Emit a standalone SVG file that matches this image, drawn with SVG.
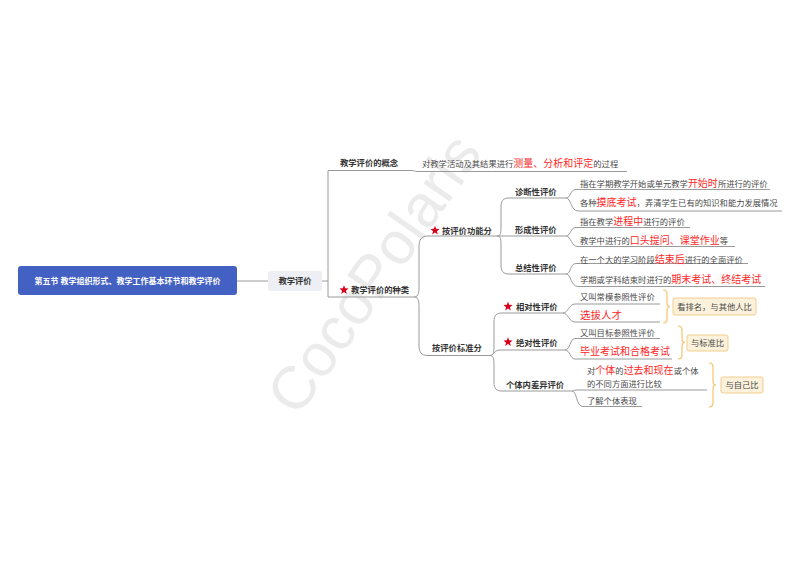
<svg xmlns="http://www.w3.org/2000/svg" width="800" height="566" viewBox="0 0 800 566">
<style>
text{font-family:"Noto Sans CJK SC","Noto Sans",sans-serif;font-size:8.3px;fill:#4a4a4a}
.b{font-weight:700;fill:#333}
.r{fill:#ff1f1f;font-size:10px}
.ul,.cn{fill:none;stroke:#9a9a9a;stroke-width:1}
.br{fill:none;stroke:#f6c36a;stroke-width:1.2}
.tag{fill:#fcf2dc;stroke:#f3cd8c;stroke-width:1}
.star{fill:#d9001b}
.c{text-anchor:middle}
</style>
<defs>
<path id="star" d="M0,-4.8 L1.2,-1.65 L4.57,-1.48 L1.93,0.63 L2.83,3.88 L0,2.03 L-2.83,3.88 L-1.93,0.63 L-4.57,-1.48 L-1.2,-1.65Z"/>
</defs>
<rect width="800" height="566" fill="#fff"/>
<text transform="translate(298,418) rotate(-55)" style="font-family:'Liberation Sans',Arial,sans-serif;font-size:60px;fill:#ebebeb">CocoPolaris</text>

<g id="connectors">
<path class="cn" d="M237,281 H268"/>
<path class="cn" d="M322,281 H328 M328,170.5 V297"/>
<path class="cn" d="M411,170.5 C415,170.5 414,171.5 418,171.5"/>
<path class="cn" d="M414,297 C419,297 419,292 419,285 V247 C419,240 421,236 428,236"/>
<path class="cn" d="M414,297 C419,297 419,302 419,309 V345 C419,352 421,355.5 428,355.5"/>
<path class="cn" d="M497,236 C501,236 501,232 501,226 V207 C501,201 503,198 509,198"/>
<path class="cn" d="M497,236 H505"/>
<path class="cn" d="M497,236 C501,236 501,240 501,246 V265 C501,271 503,274 509,274"/>
<path class="cn" d="M566,198 C571,198 570,189.5 576,189.5"/>
<path class="cn" d="M566,198 C571,198 571,211 578,211"/>
<path class="cn" d="M566,236 C571,236 570,227.5 576,227.5"/>
<path class="cn" d="M566,236 C571,236 571,246.5 578,246.5"/>
<path class="cn" d="M566,274 C571,274 570,263.5 576,263.5"/>
<path class="cn" d="M566,274 C571,274 571,286.5 578,286.5"/>
<path class="cn" d="M490,355.5 C494,355.5 494,351 494,345 V321 C494,316 496,313 502,313"/>
<path class="cn" d="M490,355.5 C494,355.5 494,350 500,350"/>
<path class="cn" d="M490,355.5 C494,355.5 494,360 494,366 V383 C494,388 496,391 502,391"/>
<path class="cn" d="M563,313 C568,313 569,304 575,304"/>
<path class="cn" d="M563,313 C568,313 569,322 575,322"/>
<path class="cn" d="M565,350 C570,350 570,338.5 575,338.5"/>
<path class="cn" d="M565,350 C570,350 570,359 575,359"/>
<path class="cn" d="M572,391 C574,391 574,390 576,390"/>
<path class="cn" d="M572,391 C577,391 576,406.5 583,406.5"/>
<path class="br" d="M663,290 Q667,290 667,294 V302.5 Q667,306.5 670,306.5 Q667,306.5 667,310.5 V319 Q667,323 663,323"/>
<path class="br" d="M678,326 Q682,326 682,330 V338.5 Q682,342.5 685,342.5 Q682,342.5 682,346.5 V355 Q682,359 678,359"/>
<path class="br" d="M709,363 Q713,363 713,367 V381 Q713,385 716,385 Q713,385 713,389 V403 Q713,407 709,407"/>
</g>

<g id="root">
<rect x="18" y="266" width="219" height="29" rx="3" fill="#4361c2"/>
<text class="c" x="127.5" y="284" style="fill:#fff;font-weight:700;font-size:8px">第五节 教学组织形式、教学工作基本环节和教学评价</text>
</g>
<g id="jxpj">
<rect x="268" y="271" width="54" height="20" rx="2" fill="#eeeff4"/>
<text class="b c" x="295" y="284">教学评价</text>
</g>
<g id="gainian">
<path class="ul" d="M328,170.5 H411"/>
<text class="b" x="340" y="166">教学评价的概念</text>
</g>
<g id="gainian-def">
<path class="ul" d="M418,171.5 H627"/>
<text x="422" y="167">对教学活动及其结果进行<tspan class="r">测量、分析和评定</tspan>的过程</text>
</g>
<g id="zhonglei">
<path class="ul" d="M328,297 H414"/>
<use href="#star" class="star" x="344" y="290"/>
<text class="b" x="351" y="293">教学评价的种类</text>
</g>
<g id="gongneng">
<path class="ul" d="M428,236 H497"/>
<use href="#star" class="star" x="435" y="230.5"/>
<text class="b" x="442" y="233.5">按评价功能分</text>
</g>
<g id="biaozhun">
<path class="ul" d="M428,355.5 H490"/>
<text class="b" x="432" y="351">按评价标准分</text>
</g>
<g id="zhenduan">
<path class="ul" d="M509,198 H566"/>
<text class="b" x="515" y="194.5">诊断性评价</text>
</g>
<g id="xingcheng">
<path class="ul" d="M505,236 H566"/>
<text class="b" x="515" y="233">形成性评价</text>
</g>
<g id="zongjie">
<path class="ul" d="M509,274 H566"/>
<text class="b" x="515" y="271">总结性评价</text>
</g>
<g id="d1">
<path class="ul" d="M576,189.5 H770"/>
<text x="580" y="186.5">指在学期教学开始或单元教学<tspan class="r">开始时</tspan>所进行的评价</text>
</g>
<g id="d2">
<path class="ul" d="M578,211 H782"/>
<text x="580" y="206">各种<tspan class="r">摸底考试</tspan>，弄清学生已有的知识和能力发展情况</text>
</g>
<g id="f1">
<path class="ul" d="M576,227.5 H690"/>
<text x="580" y="225">指在教学<tspan class="r">进程中</tspan>进行的评价</text>
</g>
<g id="f2">
<path class="ul" d="M578,246.5 H735"/>
<text x="580" y="243.5">教学中进行的<tspan class="r">口头提问、课堂作业</tspan>等</text>
</g>
<g id="z1">
<path class="ul" d="M576,263.5 H748"/>
<text x="580" y="262.5">在一个大的学习阶段<tspan class="r">结束后</tspan>进行的全面评价</text>
</g>
<g id="z2">
<path class="ul" d="M578,286.5 H765"/>
<text x="580" y="282.5">学期或学科结束时进行的<tspan class="r">期末考试、终结考试</tspan></text>
</g>
<g id="xiangdui">
<path class="ul" d="M502,313 H563"/>
<use href="#star" class="star" x="508" y="306.5"/>
<text class="b" x="516" y="310">相对性评价</text>
</g>
<g id="juedui">
<path class="ul" d="M500,350 H565"/>
<use href="#star" class="star" x="508" y="342"/>
<text class="b" x="516" y="345.5">绝对性评价</text>
</g>
<g id="geti">
<path class="ul" d="M502,391 H572"/>
<text class="b" x="506" y="387.5">个体内差异评价</text>
</g>
<g id="x1">
<path class="ul" d="M575,304 H660"/>
<text x="580" y="300">又叫常模参照性评价</text>
</g>
<g id="x2">
<path class="ul" d="M575,322 H660"/>
<text class="r" x="580" y="319" style="font-size:10.5px">选拔人才</text>
</g>
<g id="j1">
<path class="ul" d="M575,338.5 H660"/>
<text x="580" y="336">又叫目标参照性评价</text>
</g>
<g id="j2">
<path class="ul" d="M575,359 H672"/>
<text class="r" x="580" y="355">毕业考试和合格考试</text>
</g>
<g id="g1">
<path class="ul" d="M576,390 H707"/>
<text x="587" y="374">对<tspan class="r">个体</tspan>的<tspan class="r">过去和现在</tspan>或个体</text>
<text x="587" y="386.5">的不同方面进行比较</text>
</g>
<g id="g2">
<path class="ul" d="M583,406.5 H642"/>
<text x="587" y="403.5">了解个体表现</text>
</g>
<g id="tag1">
<rect class="tag" x="673" y="298" width="83" height="17" rx="2"/>
<text class="c" x="714.5" y="309.5">看排名，与其他人比</text>
</g>
<g id="tag2">
<rect class="tag" x="687" y="335" width="41" height="16" rx="2"/>
<text class="c" x="707.5" y="346">与标准比</text>
</g>
<g id="tag3">
<rect class="tag" x="721" y="377" width="42" height="16" rx="2"/>
<text class="c" x="742" y="388">与自己比</text>
</g>
</svg>
